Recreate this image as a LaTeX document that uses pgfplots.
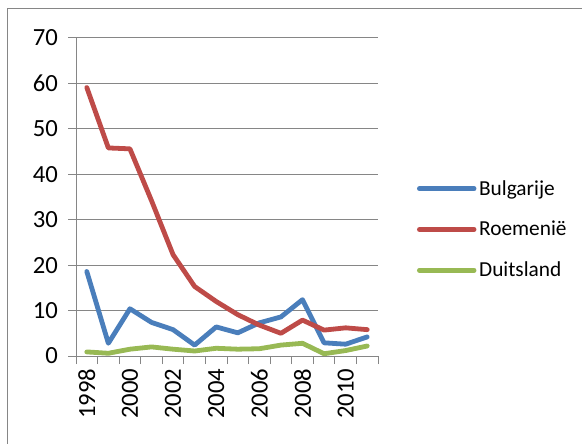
\documentclass[border=0pt]{standalone}
\usepackage{pgfplots}
\pgfplotsset{compat=1.18}
\usepackage{fontspec}
\setmainfont{Carlito}
\definecolor{cblue}{HTML}{4A7EBB}
\definecolor{cred}{HTML}{BE4B48}
\definecolor{cgreen}{HTML}{98B954}
\definecolor{cgrid}{HTML}{868686}
\begin{document}
\begin{tikzpicture}
\path[use as bounding box] (0pt,0pt) rectangle (436.5pt,332.25pt);
\draw[cgrid, line width=0.75pt] (5.25pt,-10pt) -- (5.25pt,325.5pt) -- (450pt,325.5pt);
\begin{axis}[
  at={(57pt,65.25pt)}, anchor=south west,
  scale only axis, width=226.5pt, height=238.5pt,
  xmin=-0.5, xmax=13.5, ymin=0, ymax=70, clip=false,
  axis x line=bottom, axis y line=left, axis line style={-, cgrid, line width=0.75pt},
  xtick align=outside, ytick align=inside, major tick length=6pt,
  ytick={0,10,...,70}, ymajorgrids, grid style={cgrid, line width=0.75pt},
  ytick style={draw=none},
  yticklabel style={xshift=-10pt},
  xtick={0,2,4,6,8,10,12}, xticklabels={1998,2000,2002,2004,2006,2008,2010},
  xtick style={draw=none},
  extra x ticks={-0.5,0.5,...,13.5}, extra x tick labels={},
  extra x tick style={xtick style={draw=cgrid, line width=0.75pt}, grid=none},
  /pgf/number format/assume math mode=true,
  ticklabel style={font=\fontsize{18.5}{20}\selectfont},
  xticklabel style={rotate=90, anchor=east},
  legend style={at={(1.115,0.57)}, anchor=north west, draw=none, fill=none,
    font=\fontsize{16}{18}\selectfont, row sep=14pt, cells={anchor=west}},
  legend image code/.code={\draw[#1, line cap=round] (0pt,0pt) -- (41pt,0pt);},
  every axis plot/.append style={line width=3.6pt, line join=round, line cap=round},
]
\pgfplotsinvokeforeach{0,10,...,70}{
  \draw[cgrid, line width=0.75pt] (axis cs:-0.5,#1) -- ++(-6pt,0pt);
}
\addplot[cblue] coordinates {(0,18.6)(1,2.8)(2,10.4)(3,7.4)(4,5.8)(5,2.4)(6,6.4)(7,5.1)(8,7.3)(9,8.6)(10,12.4)(11,2.9)(12,2.6)(13,4.2)};
\addlegendentry{Bulgarije}
\addplot[cred] coordinates {(0,59.1)(1,45.8)(2,45.6)(3,34.2)(4,22.3)(5,15.3)(6,12.0)(7,9.1)(8,6.8)(9,5.0)(10,7.9)(11,5.7)(12,6.2)(13,5.8)};
\addlegendentry{Roemenië}
\addplot[cgreen] coordinates {(0,0.9)(1,0.6)(2,1.5)(3,2.0)(4,1.5)(5,1.1)(6,1.7)(7,1.5)(8,1.6)(9,2.4)(10,2.8)(11,0.5)(12,1.2)(13,2.2)};
\addlegendentry{Duitsland}
\end{axis}
\end{tikzpicture}
\end{document}
